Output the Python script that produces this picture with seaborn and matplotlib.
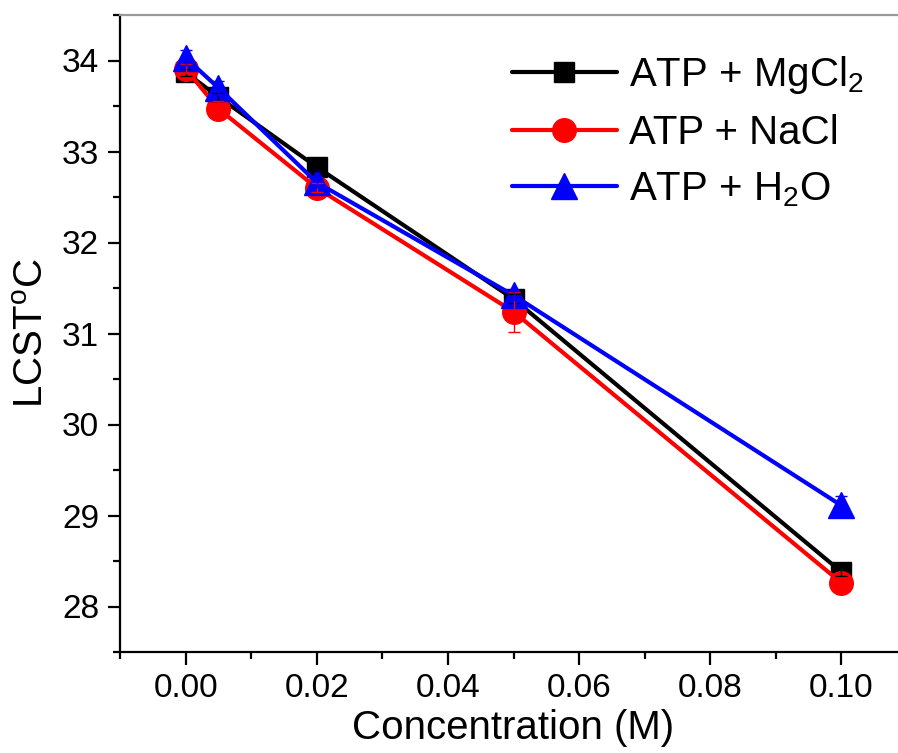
import numpy as np
import pandas as pd
import seaborn as sns
import matplotlib.pyplot as plt

# ---- data ----
conc = [0.0, 0.005, 0.02, 0.05, 0.10]
mgcl2 = [33.87, 33.60, 32.83, 31.38, 28.38]
nacl = [33.91, 33.47, 32.60, 31.24, 28.26]
h2o = [34.03, 33.70, 32.66, 31.42, 29.11]
mgcl2_err = [0.04, 0.04, 0.04, 0.05, 0.04]
nacl_err = [0.05, 0.08, 0.05, 0.22, 0.05]
h2o_err = [0.08, 0.08, 0.05, 0.05, 0.10]
labels = ["ATP + MgCl$_2$", "ATP + NaCl", "ATP + H$_2$O"]
xticks = [0.00, 0.02, 0.04, 0.06, 0.08, 0.10]
yticks = [28, 29, 30, 31, 32, 33, 34]

sns.set_theme(style="ticks")
plt.rcParams['font.family'] = ['Liberation Sans', 'DejaVu Sans']
plt.rcParams['mathtext.fontset'] = 'custom'
plt.rcParams['mathtext.rm'] = 'Liberation Sans'
plt.rcParams['mathtext.it'] = 'Liberation Sans:italic'
plt.rcParams['mathtext.bf'] = 'Liberation Sans:bold'
plt.rcParams['text.color'] = 'black'
plt.rcParams['axes.labelcolor'] = 'black'

fig = plt.figure(figsize=(8.98, 7.53), dpi=100)
ax = fig.add_axes([120/898, 101/753, (907-120)/898, (652-15)/753])

series = [
    (mgcl2, mgcl2_err, labels[0], 'black', 's', 14),
    (nacl, nacl_err, labels[1], '#ff0000', 'o', 17),
    (h2o, h2o_err, labels[2], '#0000ff', '^', 19),
]
for vals, err, lab, col, mk, ms in series:
    df = pd.DataFrame({"conc": conc, "lcst": vals})
    sns.lineplot(data=df, x="conc", y="lcst", ax=ax, color=col, marker=mk,
                 markersize=ms, markeredgecolor=col, markeredgewidth=1,
                 linewidth=3.0, label=lab)
for vals, err, lab, col, mk, ms in series:
    ax.errorbar(conc, vals, yerr=err, fmt='none', ecolor=col, elinewidth=1,
                capsize=4, capthick=1, zorder=5)

ax.set_xlim(-0.01, 0.11)
ax.set_ylim(27.5, 34.5)
ax.set_xticks(xticks)
ax.set_xticklabels([f"{t:.2f}" for t in xticks])
ax.set_yticks(yticks)
ax.set_xticks(np.arange(-0.01, 0.111, 0.01), minor=True)
ax.set_yticks(np.arange(27.5, 34.51, 0.5), minor=True)
ax.tick_params(axis='both', which='major', direction='out', length=9, width=1.6,
               labelsize=24, colors='black', pad=6)
ax.tick_params(axis='both', which='minor', direction='out', length=5, width=1.6,
               colors='black')
for s in ['left', 'bottom']:
    ax.spines[s].set_linewidth(1.6)
    ax.spines[s].set_color('black')
ax.spines['top'].set_color('#999999')
ax.spines['top'].set_linewidth(1.6)
ax.spines['right'].set_visible(False)

ax.set_xlabel("Concentration (M)", fontsize=29, labelpad=4, color='black')
ax.set_ylabel("LCST$^\\mathrm{o}$C", fontsize=29, labelpad=8, color='black')

leg = ax.legend(loc='upper left', bbox_to_anchor=(512/898, 1 - 54/753),
                bbox_transform=fig.transFigure, frameon=False, fontsize=29,
                handlelength=2.6, handletextpad=0.3, labelspacing=0.45,
                borderaxespad=0, borderpad=0)

fig.savefig("out.png", dpi=100)
